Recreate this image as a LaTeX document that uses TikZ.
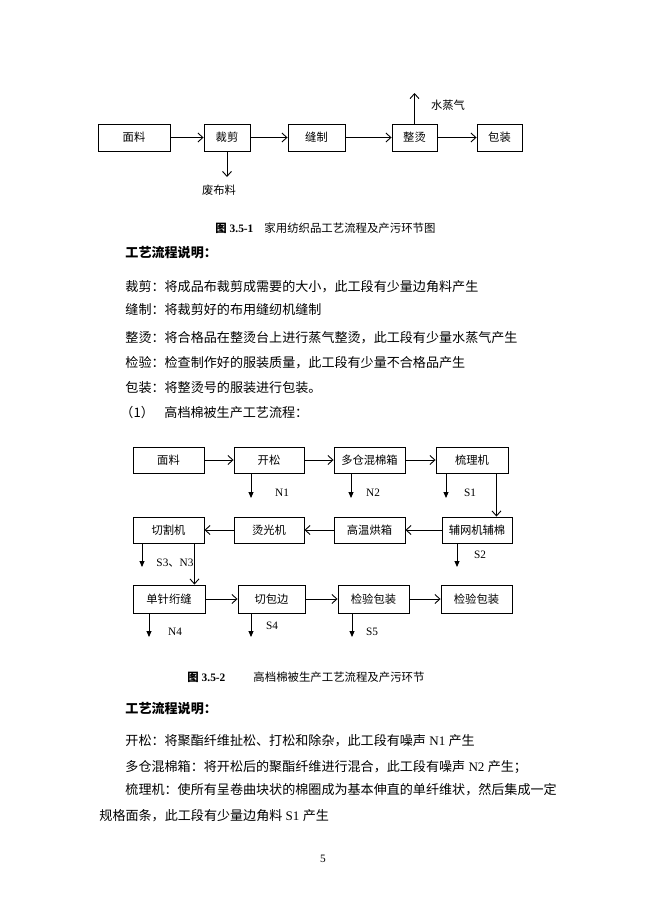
\documentclass[tikz,border=0pt]{standalone}
\usepackage{fontspec}
\setmainfont{Liberation Serif}
\newfontfamily\cjk{Noto Sans CJK SC}
\usetikzlibrary{arrows.meta,positioning,calc}

\newcommand{\boxfont}{\fontsize{11.3}{13}\selectfont\cjk}
\newcommand{\tagfont}{\fontsize{11.3}{13}\selectfont}
\newcommand{\bodyfont}{\fontsize{13.07}{16}\selectfont}
\newcommand{\capfont}{\fontsize{11.4}{14}\selectfont}

\begin{document}
\begin{tikzpicture}[
  x=1pt, y=-1pt,
  line width=0.9pt,
  procbox/.style={
    draw,
    rectangle,
    inner sep=0pt,
    minimum height=27pt,
    font=\boxfont
    },
  flow/.style={-{Straight Barb[length=5pt,width=9pt]}},
  emit/.style={-{Triangle[length=6pt,width=5pt]}},
  tag/.style={inner sep=0pt, font=\tagfont},
  body/.style={anchor=west, inner sep=0pt, font=\bodyfont},
  caption/.style={anchor=west, inner sep=0pt, font=\capfont}
]
\useasboundingbox (0,0) rectangle (650,919);

% first flow chart
\node [procbox, minimum width=72pt] (mianliao) at (134,137.5) {面料};
\node [procbox, minimum width=46pt] (caijian) at (227,137.5) {裁剪};
\node [procbox, minimum width=57pt] (fengzhi) at (316.5,137.5) {缝制};
\node [procbox, minimum width=45pt] (zhengtang) at (414.5,137.5) {整烫};
\node [procbox, minimum width=45pt] (baozhuang) at (499.5,137.5) {包装};
\coordinate (feiliao) at (227,177);
\coordinate (zhengqi) at (414.5,93);
\node [tag, font=\boxfont] (feibuliao) at (219,190) {废布料};
\node [tag, font=\boxfont] (shuizhengqi) at (448,105) {水蒸气};
\draw [flow] (mianliao) -- (caijian);
\draw [flow] (caijian) -- (fengzhi);
\draw [flow] (fengzhi) -- (zhengtang);
\draw [flow] (zhengtang) -- (baozhuang);
\draw [flow] (caijian) -- (feiliao);
\draw [flow] (zhengtang) -- (zhengqi);

\node [caption] (cap1a) at (215,228) {{\cjk\bfseries 图} \textbf{3.5-1}};
\node [caption] (cap1b) at (264,228) {\cjk 家用纺织品工艺流程及产污环节图};

% text
\node [body] (head1) at (125,253) {\cjk\bfseries 工艺流程说明：};
\node [body] (line1) at (125,287) {\cjk 裁剪：将成品布裁剪成需要的大小，此工段有少量边角料产生};
\node [body] (line2) at (125,310) {\cjk 缝制：将裁剪好的布用缝纫机缝制};
\node [body] (line3) at (125,338) {\cjk 整烫：将合格品在整烫台上进行蒸气整烫，此工段有少量水蒸气产生};
\node [body] (line4) at (125,363) {\cjk 检验：检查制作好的服装质量，此工段有少量不合格品产生};
\node [body] (line5) at (125,388) {\cjk 包装：将整烫号的服装进行包装。};
\node [body] (line6a) at (120,413) {\cjk （1）};
\node [body] (line6b) at (164,413) {\cjk 高档棉被生产工艺流程：};

% second flow chart
\node [procbox, minimum width=71pt, minimum height=26pt] (mianliao2) at (168.5,460) {面料};
\node [procbox, minimum width=70pt, minimum height=26pt] (kaisong) at (269,460) {开松};
\node [procbox, minimum width=71pt, minimum height=26pt] (hunmian) at (369.5,460) {多仓混棉箱};
\node [procbox, minimum width=72pt, minimum height=26pt] (shuli) at (472,460) {梳理机};

\node [procbox, minimum width=71pt, minimum height=26pt] (qiege) at (168.5,530) {切割机};
\node [procbox, minimum width=70pt, minimum height=26pt] (tangguang) at (269,530) {烫光机};
\node [procbox, minimum width=71pt, minimum height=26pt] (hongxiang) at (369.5,530) {高温烘箱};
\node [procbox, minimum width=70pt, minimum height=26pt] (fuwang) at (477,530) {辅网机辅棉};

\node [procbox, minimum width=72pt, minimum height=28pt] (zhenfeng) at (169,599) {单针绗缝};
\node [procbox, minimum width=67pt, minimum height=28pt] (qiebian) at (271.5,599) {切包边};
\node [procbox, minimum width=71pt, minimum height=28pt] (jianyan) at (373.5,599) {检验包装};
\node [procbox, minimum width=71pt, minimum height=28pt] (jianyan2) at (476.5,599) {检验包装};

\draw [flow] (mianliao2) -- (kaisong);
\draw [flow] (kaisong) -- (hunmian);
\draw [flow] (hunmian) -- (shuli);
\draw [flow] ([xshift=-12pt]shuli.south east) -- ([xshift=-12pt]shuli.south east |- fuwang.north);
\draw [flow] (fuwang) -- (hongxiang);
\draw [flow] (hongxiang) -- (tangguang);
\draw [flow] (tangguang) -- (qiege);
\draw [flow] ([xshift=-10pt]qiege.south east) -- ([xshift=-10pt]qiege.south east |- zhenfeng.north);
\draw [flow] (zhenfeng) -- (qiebian);
\draw [flow] (qiebian) -- (jianyan);
\draw [flow] (jianyan) -- (jianyan2);

% pollution outlets
\coordinate (n1) at (251,498);
\coordinate (n2) at (351,498);
\coordinate (s1) at (446,498);
\coordinate (s3) at (142,567);
\coordinate (s2) at (457,567);
\coordinate (n4) at (149,637);
\coordinate (s4) at (251,637);
\coordinate (s5) at (352,637);
\draw [emit] (kaisong.south -| n1) -- (n1);
\draw [emit] (hunmian.south -| n2) -- (n2);
\draw [emit] (shuli.south -| s1) -- (s1);
\draw [emit] (qiege.south -| s3) -- (s3);
\draw [emit] (fuwang.south -| s2) -- (s2);
\draw [emit] (zhenfeng.south -| n4) -- (n4);
\draw [emit] (qiebian.south -| s4) -- (s4);
\draw [emit] (jianyan.south -| s5) -- (s5);
\node [tag] (n1label) at (282,493) {N1};
\node [tag] (n2label) at (373,493) {N2};
\node [tag] (s1label) at (470,493) {S1};
\node [tag] (s3label) at (175,563) {S3{\cjk 、}N3};
\node [tag] (s2label) at (480,555) {S2};
\node [tag] (n4label) at (175,632) {N4};
\node [tag] (s4label) at (272,626) {S4};
\node [tag] (s5label) at (372,632) {S5};

\node [caption] (cap2a) at (187,677) {{\cjk\bfseries 图} \textbf{3.5-2}};
\node [caption] (cap2b) at (253,677) {\cjk 高档棉被生产工艺流程及产污环节};

% text
\node [body] (head2) at (125,709) {\cjk\bfseries 工艺流程说明：};
\node [body] (line7) at (125,741) {{\cjk 开松：将聚酯纤维扯松、打松和除杂，此工段有噪声} N1 {\cjk 产生}};
\node [body] (line8) at (125,767) {{\cjk 多仓混棉箱：将开松后的聚酯纤维进行混合，此工段有噪声} N2 {\cjk 产生；}};
\node [body] (line9) at (125,790) {\cjk 梳理机：使所有呈卷曲块状的棉圈成为基本伸直的单纤维状，然后集成一定};
\node [body] (line10) at (99,816) {{\cjk 规格面条，此工段有少量边角料} S1 {\cjk 产生}};

\node [tag] (pagenum) at (323,859) {5};
\end{tikzpicture}
\end{document}
